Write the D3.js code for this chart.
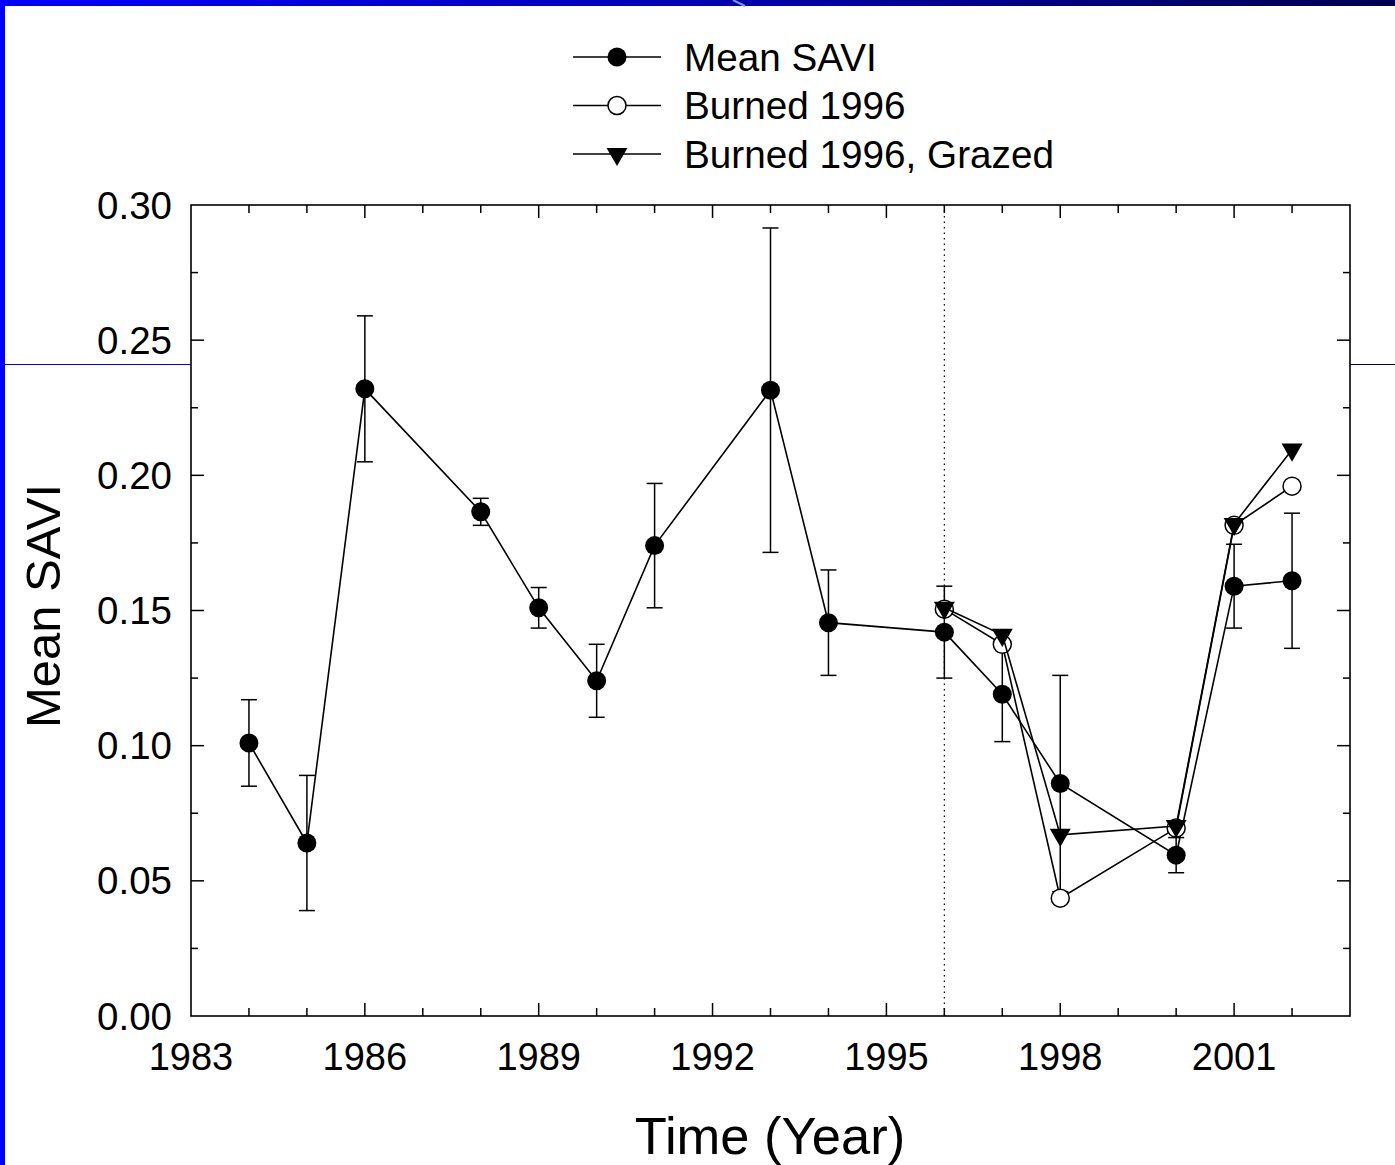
<!DOCTYPE html>
<html><head><meta charset="utf-8">
<script src="https://cdn.jsdelivr.net/npm/d3@7"></script>
<style>html,body{margin:0;padding:0;background:#fff;}svg{display:block;}</style>
</head><body>
<script>
// ---- data ----
const meanYears = [1984,1985,1986,1988,1989,1990,1991,1993,1994,1996,1997,1998,2000,2001,2002];
const meanValues = [0.101,0.064,0.232,0.1865,0.151,0.124,0.174,0.2315,0.1455,0.142,0.119,0.086,0.0595,0.159,0.161];
const meanErrors = [0.016,0.025,0.027,0.005,0.0075,0.0135,0.023,0.060,0.0195,0.017,0.0175,0.040,0.0065,0.0155,0.025];
const burnedYears = [1996,1997,1998,2000,2001,2002];
const burnedValues = [0.1505,0.1375,0.0436,0.0695,0.1815,0.196];
const grazedYears = [1996,1997,1998,2000,2001,2002];
const grazedValues = [0.151,0.141,0.067,0.0703,0.182,0.2095];
const xTicks = [1983,1986,1989,1992,1995,1998,2001];
const yTicks = [0.00,0.05,0.10,0.15,0.20,0.25,0.30];
const seriesNames = ["Mean SAVI","Burned 1996","Burned 1996, Grazed"];
const burnYear = 1996;

(function(){
const W = 1395, H = 1165;
const svg = d3.select("body").append("svg").attr("width", W).attr("height", H);
const defs = svg.append("defs");
const grad = defs.append("linearGradient").attr("id","topg").attr("x1","0").attr("x2","1");
grad.append("stop").attr("offset","0").attr("stop-color","#0000ff");
grad.append("stop").attr("offset","0.5").attr("stop-color","#0000b4");
grad.append("stop").attr("offset","1").attr("stop-color","#000050");

// decorative slide frame
svg.append("rect").attr("x",0).attr("y",0).attr("width",W).attr("height",6).attr("fill","url(#topg)");
svg.append("rect").attr("x",0).attr("y",0).attr("width",5).attr("height",H).attr("fill","#0000ff");
svg.append("line").attr("x1",733).attr("y1",0).attr("x2",745).attr("y2",6).attr("stroke","#6aa0ff").attr("stroke-width",2);
svg.append("line").attr("x1",5).attr("x2",191).attr("y1",364.5).attr("y2",364.5).attr("stroke","#0000ff").attr("stroke-width",1.2);
svg.append("line").attr("x1",1350).attr("x2",W).attr("y1",364.5).attr("y2",364.5).attr("stroke","#000050").attr("stroke-width",1.2);

const font = "'Liberation Sans', Arial, sans-serif";
const pL = 191, pR = 1350, pT = 205, pB = 1016;
const x = d3.scaleLinear().domain([1983,2003]).range([pL,pR]);
const y = d3.scaleLinear().domain([0,0.30]).range([pB,pT]);

const g = svg.append("g");

// ticks (inward) on all four sides
const xMinor = d3.range(1984,2003,1).filter(v=>!xTicks.includes(v));
const yMinor = d3.range(0.025,0.30,0.05);
const tk = g.append("g").attr("stroke","#000").attr("stroke-width",1.5);
xTicks.slice(1).forEach(v=>{
  tk.append("line").attr("x1",x(v)).attr("x2",x(v)).attr("y1",pB).attr("y2",pB-13);
  tk.append("line").attr("x1",x(v)).attr("x2",x(v)).attr("y1",pT).attr("y2",pT+13);
});
xMinor.forEach(v=>{
  tk.append("line").attr("x1",x(v)).attr("x2",x(v)).attr("y1",pB).attr("y2",pB-8);
  tk.append("line").attr("x1",x(v)).attr("x2",x(v)).attr("y1",pT).attr("y2",pT+8);
});
yTicks.slice(1,-1).forEach(v=>{
  tk.append("line").attr("x1",pL).attr("x2",pL+13).attr("y1",y(v)).attr("y2",y(v));
  tk.append("line").attr("x1",pR).attr("x2",pR-13).attr("y1",y(v)).attr("y2",y(v));
});
yMinor.forEach(v=>{
  tk.append("line").attr("x1",pL).attr("x2",pL+7).attr("y1",y(v)).attr("y2",y(v));
  tk.append("line").attr("x1",pR).attr("x2",pR-7).attr("y1",y(v)).attr("y2",y(v));
});
g.append("rect").attr("x",pL).attr("y",pT).attr("width",pR-pL).attr("height",pB-pT)
  .attr("fill","none").attr("stroke","#000").attr("stroke-width",1.6);

// tick labels
g.selectAll(".xl").data(xTicks).enter().append("text")
  .attr("x",d=>x(d)).attr("y",1070).attr("text-anchor","middle")
  .attr("font-family",font).attr("font-size",38).text(d=>d);
g.selectAll(".yl").data(yTicks).enter().append("text")
  .attr("x",172).attr("y",d=>y(d)+13.5).attr("text-anchor","end")
  .attr("font-family",font).attr("font-size",38.5).text(d=>d.toFixed(2));

// axis titles
g.append("text").attr("x",770).attr("y",1154).attr("text-anchor","middle")
  .attr("font-family",font).attr("font-size",52.5).text("Time (Year)");
g.append("text").attr("transform","translate(60,606) rotate(-90)").attr("text-anchor","middle")
  .attr("font-family",font).attr("font-size",49).text("Mean SAVI");

// dotted vertical at burn year
g.append("line").attr("x1",x(burnYear)).attr("x2",x(burnYear)).attr("y1",pT).attr("y2",pB)
  .attr("stroke","#000").attr("stroke-width",1.2).attr("stroke-dasharray","1.5,4");

// error bars
const meanData = meanYears.map((yr,i)=>({yr, v:meanValues[i], e:meanErrors[i]}));
const eb = g.append("g").attr("stroke","#000").attr("stroke-width",1.5);
meanData.forEach(d=>{
  eb.append("line").attr("x1",x(d.yr)).attr("x2",x(d.yr)).attr("y1",y(d.v+d.e)).attr("y2",y(d.v-d.e));
  [d.v+d.e,d.v-d.e].forEach(c=>eb.append("line").attr("x1",x(d.yr)-8).attr("x2",x(d.yr)+8).attr("y1",y(c)).attr("y2",y(c)));
});

const line = d3.line().x(d=>x(d.yr)).y(d=>y(d.v));
const burnedData = burnedYears.map((yr,i)=>({yr, v:burnedValues[i]}));
const grazedData = grazedYears.map((yr,i)=>({yr, v:grazedValues[i]}));

const tri = d3.symbol().type(d3.symbolTriangle).size(190);
function drawMarker(sel, cx, cy, kind){
  if(kind===0) sel.append("circle").attr("cx",cx).attr("cy",cy).attr("r",9.5).attr("fill","#000");
  else if(kind===1) sel.append("circle").attr("cx",cx).attr("cy",cy).attr("r",9).attr("fill","#fff").attr("stroke","#000").attr("stroke-width",1.5);
  else sel.append("path").attr("d",tri).attr("transform",`translate(${cx},${cy}) rotate(180)`).attr("fill","#000");
}
function drawSeries(data, kind){
  g.append("path").datum(data).attr("d",line).attr("fill","none").attr("stroke","#000").attr("stroke-width",1.6);
  const m = g.append("g");
  data.forEach(d=>drawMarker(m, x(d.yr), y(d.v), kind));
}
drawSeries(meanData,0);
drawSeries(burnedData,1);
drawSeries(grazedData,2);

// legend
const lg = svg.append("g");
seriesNames.forEach((name,i)=>{
  const ly = 57 + i*48.5;
  lg.append("line").attr("x1",573).attr("x2",661).attr("y1",ly).attr("y2",ly).attr("stroke","#000").attr("stroke-width",1.6);
  drawMarker(lg, 617, ly, i);
  lg.append("text").attr("x",684).attr("y",ly+13.5).attr("font-family",font).attr("font-size",38.7).text(name);
});
})();
</script>
</body></html>
